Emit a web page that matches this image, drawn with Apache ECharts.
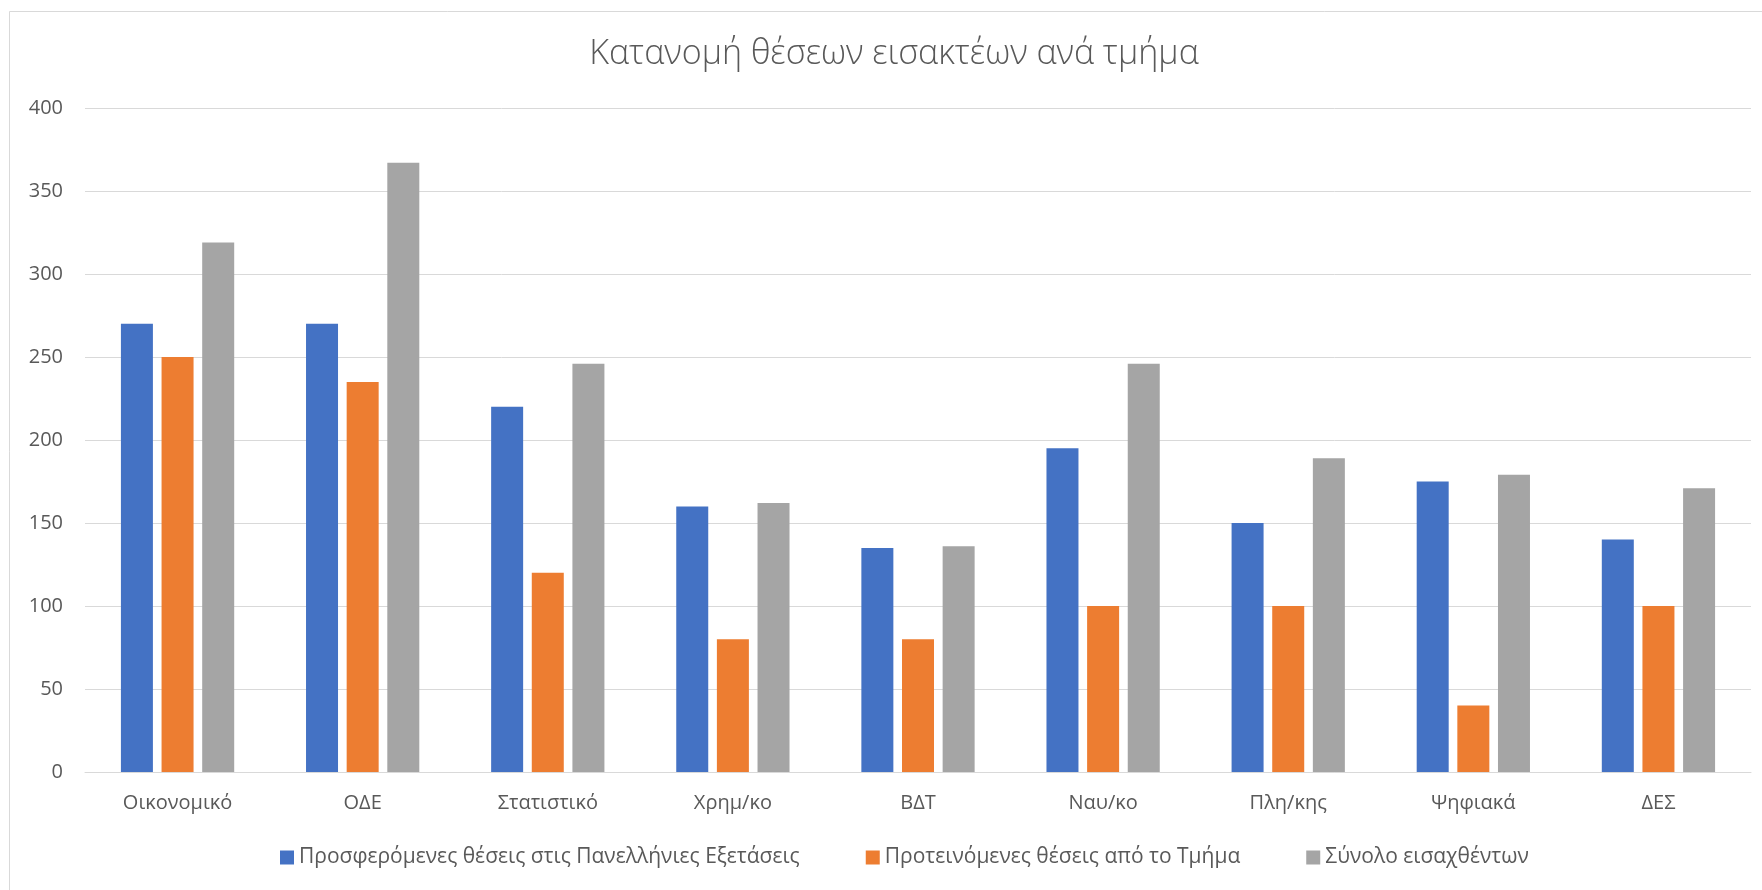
<!DOCTYPE html>
<html>
<head>
<meta charset="utf-8">
<script src="https://cdn.jsdelivr.net/npm/echarts@6/dist/echarts.min.js"></script>
<style>
html,body{margin:0;padding:0;background:#fff;}
#chart{width:1762px;height:890px;}
</style>
</head>
<body>
<div id="chart"></div>
<script>
const titleText = 'Κατανομή θέσεων εισακτέων ανά τμήμα';
const categories = ['Οικονομικό', 'ΟΔΕ', 'Στατιστικό', 'Χρημ/κο', 'ΒΔΤ', 'Ναυ/κο', 'Πλη/κης', 'Ψηφιακά', 'ΔΕΣ'];
const seriesNames = ['Προσφερόμενες θέσεις στις Πανελλήνιες Εξετάσεις', 'Προτεινόμενες θέσεις από το Τμήμα', 'Σύνολο εισαχθέντων'];
const offered = [270, 270, 220, 160, 135, 195, 150, 175, 140];
const proposed = [250, 235, 120, 80, 80, 100, 100, 40, 100];
const admitted = [319, 367, 246, 162, 136, 246, 189, 179, 171];
const colors = ['#4472C4', '#ED7D31', '#A5A5A5'];

const font = 'Open Sans';
const textColor = '#595959';
const chart = echarts.init(document.getElementById('chart'), null, {renderer: 'canvas'});
const dataSets = [offered, proposed, admitted];
chart.setOption({
  animation: false,
  backgroundColor: '#fff',
  color: colors,
  graphic: [{
    type: 'rect', left: 7, top: 9, z: -1,
    shape: {width: 1753, height: 900},
    style: {fill: 'none', stroke: '#D9D9D9', lineWidth: 1}
  }, {
    type: 'text', x: 894, y: 54,
    style: {text: titleText, align: 'center', verticalAlign: 'middle',
      font: '300 34px "Open Sans"', fill: textColor}
  }],
  legend: {
    bottom: 17, left: 275, icon: 'rect', itemWidth: 14, itemHeight: 14, itemGap: 66,
    textStyle: {fontFamily: font, fontSize: 21, color: textColor}
  },
  grid: {left: 85, right: 11, top: 108, bottom: 118},
  xAxis: {
    type: 'category', data: categories,
    axisLine: {show: true, lineStyle: {color: '#D9D9D9', width: 1}},
    axisTick: {show: false},
    axisLabel: {fontFamily: font, fontSize: 20, color: textColor, margin: 21}
  },
  yAxis: {
    type: 'value', min: 0, max: 400, interval: 50,
    axisLine: {show: false}, axisTick: {show: false},
    splitLine: {lineStyle: {color: '#D9D9D9', width: 1}},
    axisLabel: {fontFamily: font, fontSize: 20, color: textColor, margin: 22}
  },
  series: seriesNames.map((n, i) => ({
    name: n, type: 'bar', data: dataSets[i], barWidth: 32, barGap: '27%',
    itemStyle: {color: colors[i]}
  }))
});
</script>
</body>
</html>
